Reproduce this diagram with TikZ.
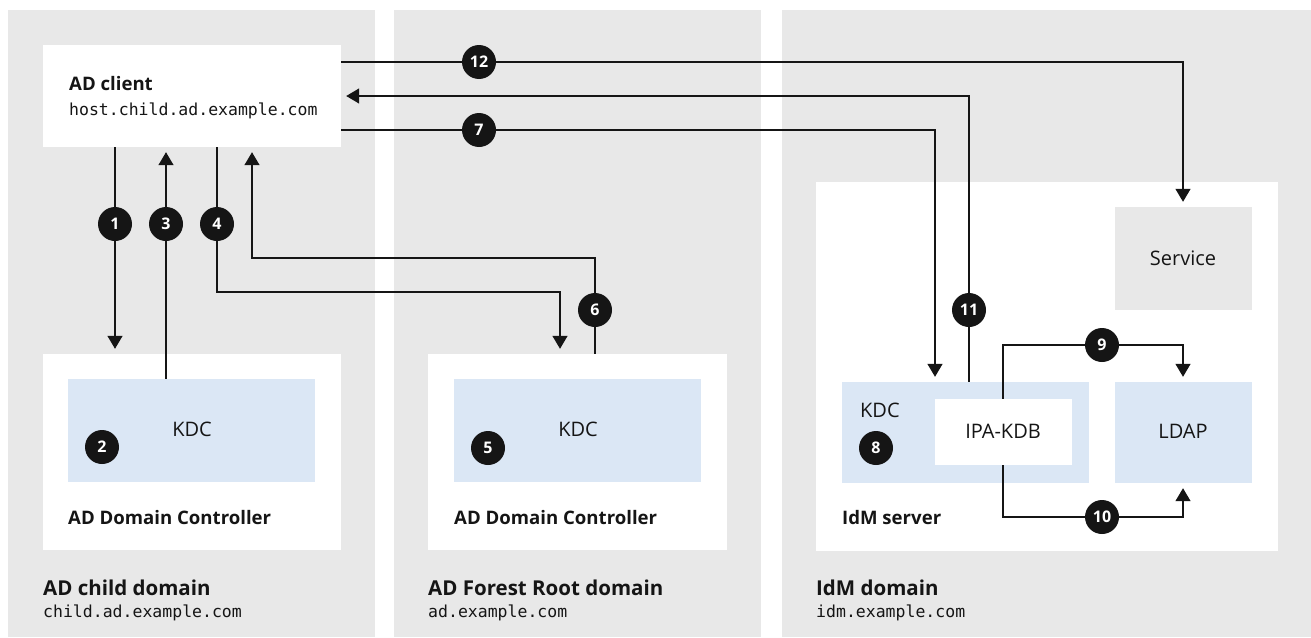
\documentclass[tikz,border=0pt]{standalone}
\usepackage{fontspec}
\setmainfont{Open Sans}
\setmonofont{DejaVu Sans Mono}
\usetikzlibrary{arrows.meta,fit}
\definecolor{panel}{RGB}{232,232,232}
\definecolor{kdcblue}{RGB}{219,231,245}
\definecolor{ink}{RGB}{21,21,21}
\begin{document}
\begin{tikzpicture}[x=1pt,y=-1pt,
  area/.style={inner sep=0,draw=none,fill=panel},
  wbox/.style={inner sep=0,draw=none,fill=white},
  bbox/.style={inner sep=0,draw=none,fill=kdcblue},
  gbox/.style={inner sep=0,draw=none,fill=panel},
  arr/.style={draw=ink,line width=1.4pt,-{Triangle[width=15pt,length=13pt]},shorten >=5pt},
  badge/.style={circle,fill=ink,text=white,minimum size=34pt,inner sep=0,
    font=\bfseries\fontsize{16}{16}\selectfont},
  ttl/.style={anchor=base west,inner sep=0,text=ink,font=\bfseries\fontsize{18.6}{22}\selectfont},
  big/.style={anchor=base west,inner sep=0,text=ink,font=\bfseries\fontsize{20.5}{24}\selectfont},
  mono/.style={anchor=base west,inner sep=0,text=ink,font=\ttfamily\fontsize{16.5}{20}\selectfont},
  lbl/.style={inner sep=0,font=\fontsize{20}{22}\selectfont,text=ink}
]
\useasboundingbox (0,0) rectangle (1311,637);
% panels
\node[fit={(8,10)(375,637)},area] (p1) {};
\node[fit={(394,10)(761,637)},area] (p2) {};
\node[fit={(782,10)(1311,637)},area] (p3) {};
% boxes
\node[fit={(43,45)(341,147)},wbox] (client) {};
\node[fit={(43,354)(341,550)},wbox] (dc1) {};
\node[fit={(68,379)(315,482)},bbox] (kdc1) {};
\node[fit={(428,354)(727,550)},wbox] (dc2) {};
\node[fit={(454,379)(701,482)},bbox] (kdc2) {};
\node[fit={(816,182)(1278,551)},wbox] (idm) {};
\node[fit={(1115,207)(1252,310)},gbox] (service) {};
\node[fit={(842,382)(1089,483)},bbox] (kdc3) {};
\node[fit={(935,399)(1072,465)},wbox] (ipakdb) {};
\node[fit={(1115,382)(1252,483)},bbox] (ldap) {};
% texts
\node[ttl] (clientname) at (69,90) {AD client};
\node[mono] (clienthost) at (69,115) {host.child.ad.example.com};
\node[lbl] (kdc1t) at (192,429) {KDC};
\node[ttl] (dc1t) at (68,524) {AD Domain Controller};
\node[big] (d1t) at (43,595) {AD child domain};
\node[mono] (d1h) at (43,617) {child.ad.example.com};
\node[lbl] (kdc2t) at (578,429) {KDC};
\node[ttl] (dc2t) at (454,524) {AD Domain Controller};
\node[big] (d2t) at (428,595) {AD Forest Root domain};
\node[mono] (d2h) at (428,617) {ad.example.com};
\node[lbl] (servicet) at (1183,258) {Service};
\node[lbl,anchor=west] (kdc3t) at (860,410) {KDC};
\node[lbl] (ipakdbt) at (1003,431) {IPA-KDB};
\node[lbl] (ldapt) at (1183,431) {LDAP};
\node[ttl] (idmt) at (842,524) {IdM server};
\node[big] (d3t) at (816,595) {IdM domain};
\node[mono] (d3h) at (816,617) {idm.example.com};
% route coordinates
\coordinate (x1) at (115,0);
\coordinate (x3) at (166,0);
\coordinate (l4a) at (217,292);
\coordinate (l4b) at (560,292);
\coordinate (l6a) at (252,258);
\coordinate (l6b) at (595,258);
\coordinate (l7) at (935,130);
\coordinate (l11) at (969,96);
\coordinate (l12) at (1183,62);
\coordinate (l9a) at (1003,345);
\coordinate (l9b) at (1183,345);
\coordinate (l10a) at (1003,517);
\coordinate (l10b) at (1183,517);
% connectors
\draw[arr] (client.south -| x1) -- (dc1.north -| x1);
\draw[arr] (kdc1.north -| x3) -- (client.south -| x3);
\draw[arr] (client.south -| l4a) -- (l4a) -- (l4b) -- (dc2.north -| l4b);
\draw[arr] (dc2.north -| l6b) -- (l6b) -- (l6a) -- (client.south -| l6a);
\draw[arr] (client.east |- l7) -- (l7) -- (kdc3.north -| l7);
\draw[arr] (kdc3.north -| l11) -- (l11) -- (client.east |- l11);
\draw[arr] (client.east |- l12) -- (l12) -- (service.north -| l12);
\draw[arr] (ipakdb.north -| l9a) -- (l9a) -- (l9b) -- (ldap.north -| l9b);
\draw[arr] (ipakdb.south -| l10a) -- (l10a) -- (l10b) -- (ldap.south -| l10b);
% badges
\node[badge] (b1) at (115,224) {1};
\node[badge] (b2) at (102,447) {2};
\node[badge] (b3) at (166,224) {3};
\node[badge] (b4) at (217,224) {4};
\node[badge] (b5) at (488,448) {5};
\node[badge] (b6) at (595,310) {6};
\node[badge] (b7) at (479,130) {7};
\node[badge] (b8) at (876,448) {8};
\node[badge] (b9) at (1102,345) {9};
\node[badge] (b10) at (1102,517) {10};
\node[badge] (b11) at (969,310) {11};
\node[badge] (b12) at (479,62) {12};
\end{tikzpicture}
\end{document}
